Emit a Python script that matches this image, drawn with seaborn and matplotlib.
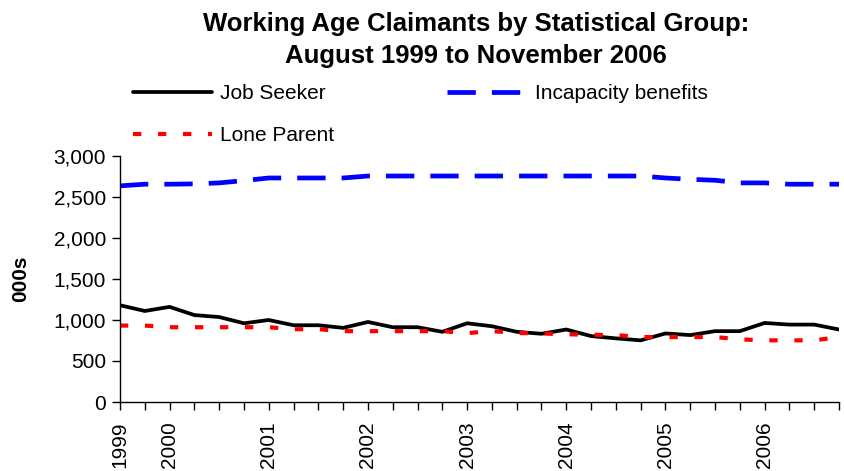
import matplotlib
matplotlib.use('Agg')
import matplotlib.pyplot as plt
import numpy as np
import pandas as pd
import seaborn as sns

# quarterly points, Aug 1999 .. Nov 2006 (thousands)
quarters = ['Aug 1999', 'Nov 1999', 'Feb 2000', 'May 2000', 'Aug 2000', 'Nov 2000',
            'Feb 2001', 'May 2001', 'Aug 2001', 'Nov 2001', 'Feb 2002', 'May 2002',
            'Aug 2002', 'Nov 2002', 'Feb 2003', 'May 2003', 'Aug 2003', 'Nov 2003',
            'Feb 2004', 'May 2004', 'Aug 2004', 'Nov 2004', 'Feb 2005', 'May 2005',
            'Aug 2005', 'Nov 2005', 'Feb 2006', 'May 2006', 'Aug 2006', 'Nov 2006']
job_seeker = [1180, 1110, 1160, 1060, 1036, 960, 1000, 936, 936, 904,
              976, 912, 912, 856, 960, 924, 856, 832, 884, 804,
              776, 752, 836, 816, 864, 864, 964, 944, 944, 884]
incapacity = [2636, 2656, 2656, 2660, 2672, 2700, 2732, 2732, 2732, 2732,
              2756, 2756, 2756, 2756, 2756, 2756, 2756, 2756, 2756, 2756,
              2756, 2756, 2732, 2716, 2704, 2672, 2672, 2656, 2656, 2656]
lone_parent = [932, 932, 912, 912, 912, 912, 912, 888, 888, 864,
               864, 864, 864, 864, 840, 864, 842, 836, 826, 820,
               816, 792, 792, 792, 792, 764, 752, 752, 752, 792]
year_ticks = {0: '1999', 2: '2000', 6: '2001', 10: '2002', 14: '2003',
              18: '2004', 22: '2005', 26: '2006'}

x = np.arange(len(quarters))

sns.set_style('ticks')
plt.rcParams['font.family'] = ['Liberation Sans', 'DejaVu Sans']
plt.rcParams['text.color'] = 'black'
plt.rcParams['axes.labelcolor'] = 'black'
plt.rcParams['xtick.color'] = 'black'
plt.rcParams['ytick.color'] = 'black'

fig = plt.figure(figsize=(8.44, 4.71), dpi=100)
ax = fig.add_axes([120/844, 1 - 402/471, (839 - 120)/844, (402 - 156)/471])

sns.lineplot(x=x, y=job_seeker, ax=ax, color='black', linewidth=2.7, label='Job Seeker')
sns.lineplot(x=x, y=lone_parent, ax=ax, color='#ff0000', linewidth=3.0,
             linestyle=(0, (2, 4)), label='Lone Parent')
sns.lineplot(x=x, y=incapacity, ax=ax, color='#0000ff', linewidth=3.4,
             linestyle=(0, (6, 3.4)), label='Incapacity benefits')
for ln in ax.lines:
    ln.set_dash_capstyle('butt')

ax.set_xlim(0, len(quarters) - 1)
ax.set_ylim(0, 3000)
ax.set_yticks(range(0, 3001, 500))
ax.set_yticklabels([f'{v:,}' for v in range(0, 3001, 500)], fontsize=15)
ax.set_xticks(x)
ax.set_xticklabels([year_ticks.get(i, '') for i in x], rotation=90, fontsize=15)
ax.tick_params(axis='both', length=6, width=1, color='black', pad=4)
ax.tick_params(axis='x', pad=8)
sns.despine(ax=ax)
for s in ['left', 'bottom']:
    ax.spines[s].set_linewidth(1)
    ax.spines[s].set_color('black')
ax.set_ylabel('000s', fontsize=15, fontweight='bold', labelpad=17)
ax.set_xlabel('')

handles, labels = ax.get_legend_handles_labels()
ax.get_legend().remove()
fig.legend(handles, labels, ncol=2, loc='upper left',
           bbox_to_anchor=(133/844, 1 - 84/471), frameon=False, fontsize=15,
           handlelength=3.8, handletextpad=0.4, columnspacing=5.4,
           labelspacing=1.12, borderpad=0, borderaxespad=0)

fig.text(476/844, 1 - 40/471, 'Working Age Claimants by Statistical Group:\nAugust 1999 to November 2006',
         ha='center', va='center', fontsize=18.5, fontweight='bold', linespacing=1.45)

fig.savefig('out.png', dpi=100, facecolor='white')
